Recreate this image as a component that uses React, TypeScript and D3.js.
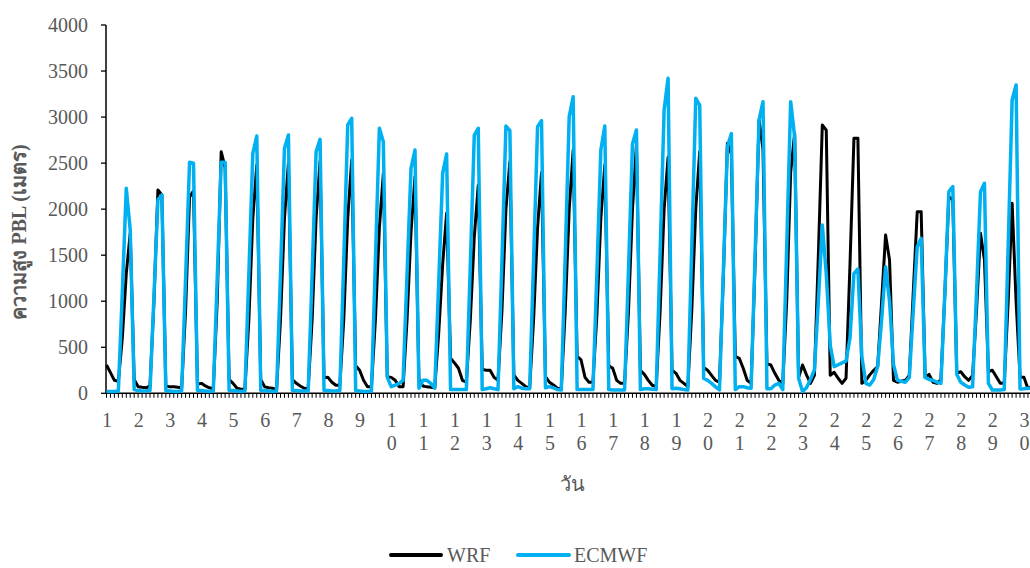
import React from "react";
import * as d3 from "d3";

// Day labels on the category axis (one label every 8 three-hourly samples)
const dayLabels: string[] = Array.from({ length: 30 }, (_, i) => String(i + 1));
const samplesPerDay = 8;

// WRF PBL height (m), 3-hourly, 8 values per day
const wrf: number[] = [
  307, 224, 141, 130, 600, 1300, 1740, 150,
  72, 65, 60, 80, 1000, 2208, 2154, 80,
  70, 70, 65, 60, 900, 2130, 2200, 100,
  108, 80, 60, 50, 1000, 2624, 2450, 150,
  108, 55, 45, 45, 800, 1900, 2480, 150,
  70, 60, 55, 40, 800, 1900, 2500, 150,
  108, 80, 55, 50, 800, 1900, 2520, 170,
  173, 120, 87, 87, 800, 1900, 2534, 300,
  250, 141, 72, 72, 800, 1800, 2389, 180,
  173, 141, 72, 72, 800, 1750, 2352, 150,
  80, 70, 65, 60, 650, 1400, 1955, 380,
  330, 272, 141, 120, 800, 1700, 2262, 260,
  250, 250, 173, 141, 900, 2000, 2515, 200,
  141, 108, 72, 55, 800, 1800, 2396, 180,
  120, 90, 55, 50, 900, 2000, 2642, 400,
  362, 173, 120, 120, 850, 1900, 2479, 300,
  272, 141, 108, 108, 900, 2000, 2700, 250,
  206, 141, 87, 72, 900, 2000, 2563, 250,
  217, 141, 108, 72, 900, 2000, 2624, 280,
  250, 195, 141, 120, 1300, 2715, 2600, 400,
  380, 272, 141, 108, 1400, 2968, 2650, 320,
  307, 217, 141, 108, 1000, 2400, 2824, 170,
  307, 200, 108, 195, 1500, 2914, 2859, 195,
  228, 163, 108, 163, 1400, 2769, 2769, 108,
  141, 200, 250, 290, 1000, 1719, 1448, 141,
  120, 130, 141, 195, 1100, 1972, 1972, 173,
  206, 120, 108, 150, 1100, 2136, 2100, 217,
  235, 180, 141, 195, 900, 1737, 1448, 235,
  250, 180, 108, 108, 1000, 2063, 1000, 173,
  173, 50, 80,
];

// ECMWF PBL height (m), 3-hourly, 8 values per day
const ecmwf: number[] = [
  20, 20, 20, 25, 1100, 2226, 1773, 40,
  30, 25, 25, 30, 1050, 2100, 2154, 30,
  25, 20, 20, 25, 1250, 2509, 2498, 30,
  30, 25, 20, 25, 1250, 2509, 2509, 30,
  30, 25, 20, 25, 1300, 2606, 2794, 30,
  30, 25, 20, 25, 1300, 2660, 2805, 30,
  30, 25, 25, 25, 1300, 2624, 2758, 30,
  30, 25, 25, 30, 1450, 2914, 2986, 30,
  25, 20, 20, 25, 1450, 2878, 2733, 173,
  72, 90, 108, 141, 1300, 2443, 2642, 55,
  141, 141, 108, 55, 1200, 2389, 2599, 40,
  40, 40, 40, 40, 1400, 2805, 2878, 40,
  50, 60, 50, 40, 1450, 2903, 2852, 50,
  72, 55, 50, 50, 1450, 2896, 2961, 60,
  72, 60, 40, 36, 1500, 3004, 3221, 40,
  40, 40, 40, 40, 1300, 2642, 2903, 40,
  36, 36, 36, 36, 1350, 2707, 2859, 40,
  50, 50, 45, 40, 1550, 3077, 3421, 50,
  55, 50, 40, 36, 1600, 3204, 3131, 163,
  140, 108, 70, 36, 1350, 2680, 2820, 40,
  72, 72, 60, 55, 1500, 2968, 3167, 50,
  50, 90, 108, 40, 1600, 3167, 2787, 163,
  20, 60, 150, 253, 1000, 1828, 1300, 520,
  290, 310, 330, 350, 600, 1300, 1350, 400,
  108, 90, 150, 290, 800, 1375, 1000, 315,
  141, 130, 120, 173, 900, 1592, 1683, 173,
  150, 141, 120, 108, 1100, 2190, 2244, 206,
  120, 90, 65, 70, 1100, 2190, 2280, 108,
  36, 36, 36, 40, 1600, 3185, 3349, 46,
  50, 55, 55,
];

const yTicks: number[] = [0, 500, 1000, 1500, 2000, 2500, 3000, 3500, 4000];

const W = 1030;
const H = 568;
const FONT = "'Liberation Serif', 'Times New Roman', 'DejaVu Serif', serif";
const GREY = "#595959";

export default function App() {
  const x = d3
    .scaleLinear()
    .domain([0, (dayLabels.length - 1) * samplesPerDay])
    .range([106.5, 1024]);
  const y = d3.scaleLinear().domain([0, 4000]).range([393.3, 25]);

  const line = d3
    .line<number>()
    .x((_, i) => x(i))
    .y((d) => y(d));

  const tickIdx = d3.range(0, 240);

  return (
    <div style={{ position: "fixed", left: 0, top: 0 }}>
      <svg width={W} height={H} style={{ display: "block", background: "#fff" }}>
        {/* x-axis minor tick marks */}
        {tickIdx.map((i) => (
          <line
            key={"xt" + i}
            x1={x(i)}
            x2={x(i)}
            y1={y(0)}
            y2={y(0) + 4.5}
            stroke="#000"
            strokeWidth={1}
          />
        ))}
        {/* y-axis ticks and labels */}
        {yTicks.map((t) => (
          <g key={"yt" + t}>
            <line x1={101} x2={106} y1={y(t)} y2={y(t)} stroke="#000" strokeWidth={1.3} />
            <text
              x={88}
              y={y(t)}
              dy="0.34em"
              textAnchor="end"
              fontFamily={FONT}
              fontSize={20}
              fill={GREY}
            >
              {t}
            </text>
          </g>
        ))}
        {/* axes lines */}
        <line x1={106} x2={W} y1={y(0)} y2={y(0)} stroke="#000" strokeWidth={1.5} />
        <line x1={106} x2={106} y1={y(4000)} y2={y(0)} stroke="#000" strokeWidth={1.5} />

        {/* series */}
        <path
          d={line(wrf) || ""}
          fill="none"
          stroke="#000"
          strokeWidth={3}
          strokeLinejoin="round"
        />
        <path
          d={line(ecmwf) || ""}
          fill="none"
          stroke="#00B0F0"
          strokeWidth={3.5}
          strokeLinejoin="round"
        />

        {/* x-axis labels, two-digit days wrapped onto two lines */}
        {dayLabels.map((lab, d) => {
          const cx = x(d * samplesPerDay) + 0.5;
          const chars = lab.split("");
          return (
            <text
              key={"xl" + lab}
              textAnchor="middle"
              fontFamily={FONT}
              fontSize={20}
              fill={GREY}
            >
              {chars.map((c, j) => (
                <tspan key={j} x={cx} y={426.5 + j * 23}>
                  {c}
                </tspan>
              ))}
            </text>
          );
        })}

        {/* axis titles */}
        <text
          transform="translate(26,232) rotate(-90)"
          textAnchor="middle"
          fontFamily={FONT}
          fontSize={20}
          fontWeight="bold"
          fill={GREY}
        >
          ความสูง PBL (เมตร)
        </text>
        <text
          x={572}
          y={491}
          textAnchor="middle"
          fontFamily={FONT}
          fontSize={20}
          fill={GREY}
        >
          วัน
        </text>

        {/* legend */}
        <line x1={391} x2={441} y1={555} y2={555} stroke="#000" strokeWidth={4} strokeLinecap="round" />
        <text x={447} y={562} fontFamily={FONT} fontSize={20} fill={GREY}>
          WRF
        </text>
        <line x1={518} x2={569} y1={555} y2={555} stroke="#00B0F0" strokeWidth={4} strokeLinecap="round" />
        <text x={574} y={562} fontFamily={FONT} fontSize={20} fill={GREY}>
          ECMWF
        </text>
      </svg>
    </div>
  );
}
